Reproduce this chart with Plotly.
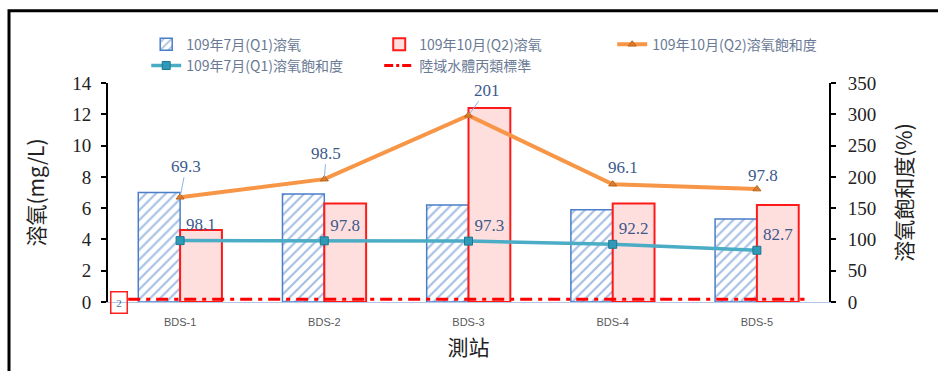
import plotly.graph_objects as go

# Monitoring stations
stations = ["BDS-1", "BDS-2", "BDS-3", "BDS-4", "BDS-5"]

# Dissolved oxygen (mg/L)
do_q1 = [7.0, 6.9, 6.2, 5.9, 5.3]
do_q2 = [4.6, 6.3, 12.4, 6.3, 6.2]

# Dissolved oxygen saturation (%)
sat_q1 = [98.1, 97.8, 97.3, 92.2, 82.7]
sat_q2 = [69.3, 98.5, 201, 96.1, 97.8]

# Class C inland water standard (mg/L)
standard_do = 4.5

left_ticks = [0, 2, 4, 6, 8, 10, 12, 14]
right_ticks = [0, 50, 100, 150, 200, 250, 300, 350]

name_q1_do = "109年7月(Q1)溶氧"
name_q2_do = "109年10月(Q2)溶氧"
name_q2_sat = "109年10月(Q2)溶氧飽和度"
name_q1_sat = "109年7月(Q1)溶氧飽和度"
name_std = "陸域水體丙類標準"

LABEL_BLUE = "#3B5A8C"
LEGEND_GREY = "#6A7A95"
SERIF = "Liberation Serif, Times New Roman, serif"
CJK = "Noto Sans CJK TC, Noto Sans CJK SC, sans-serif"

fig = go.Figure()

fig.add_trace(go.Bar(
    x=stations, y=do_q1, name=name_q1_do, legend="legend",
    marker=dict(color="white",
                line=dict(color="#4A7EC8", width=1.5),
                pattern=dict(shape="/", fgcolor="#4A7EC8", bgcolor="white",
                             size=7, solidity=0.3)),
))
fig.add_trace(go.Bar(
    x=stations, y=do_q2, name=name_q2_do, legend="legend",
    marker=dict(color="#FFDEDE", line=dict(color="#FF1A1A", width=2)),
))

# Saturation lines are stacked (Q2 sits on top of Q1), drawn without fill
fig.add_trace(go.Scatter(
    x=stations, y=sat_q1, name=name_q1_sat, yaxis="y2", legend="legend2",
    stackgroup="sat", fill="none", mode="lines+markers+text",
    line=dict(color="#4BACC6", width=3.5),
    marker=dict(symbol="square", size=8, color="#2E9AB8",
                line=dict(color="#1F7890", width=1)),
    text=[f"{v:g}" for v in sat_q1], textposition="top right",
    textfont=dict(family=SERIF, size=17, color=LABEL_BLUE),
))
fig.add_trace(go.Scatter(
    x=stations, y=sat_q2, name=name_q2_sat, yaxis="y2", legend="legend",
    stackgroup="sat", fill="none", mode="lines+markers",
    line=dict(color="#F79646", width=4),
    marker=dict(symbol="triangle-up", size=7, color="#E07B2A",
                line=dict(color="#B8651F", width=1)),
))
# Legend entry for the standard line (drawn as a shape below)
fig.add_trace(go.Scatter(
    x=[None], y=[None], name=name_std, yaxis="y2", legend="legend2",
    mode="lines", line=dict(color="#FF0000", width=3, dash="dashdot"),
))

# Data labels for the Q2 saturation series, placed at the stacked points
stacked = [a + b for a, b in zip(sat_q1, sat_q2)]
offsets = [(6, -31, True), (2, -26, True), (18, -25, True), (10, -17, False), (6, -14, False)]
for st, ys, v, (dx, dy, arrow) in zip(stations, stacked, sat_q2, offsets):
    if arrow:
        fig.add_annotation(x=st, y=ys, xref="x", yref="y2", text=f"{v:g}",
                           showarrow=True, ax=dx, ay=dy, arrowhead=0,
                           arrowwidth=1, arrowcolor="#8DB3E2", standoff=2,
                           font=dict(family=SERIF, size=17, color=LABEL_BLUE))
    else:
        fig.add_annotation(x=st, y=ys, xref="x", yref="y2", text=f"{v:g}",
                           showarrow=False, xshift=dx, yshift=-dy,
                           font=dict(family=SERIF, size=17, color=LABEL_BLUE))

# Standard line across the stations
fig.add_shape(type="line", xref="x", yref="y2", x0=-0.36, x1=4.33,
              y0=standard_do, y1=standard_do,
              line=dict(color="#FF0000", width=3, dash="12px,6px,4px,6px"))

# Small boxed marker at the origin
fig.add_annotation(xref="paper", yref="paper", x=0.015, y=0.0,
                   xanchor="center", yanchor="middle", text="2",
                   showarrow=False, width=13, height=18,
                   bordercolor="#FF2020", borderwidth=1.5,
                   font=dict(family=SERIF, size=11, color="#4A6FA5"))

# Outer frame
fig.add_shape(type="rect", xref="paper", yref="paper",
              x0=-0.1373, x1=1.6, y0=-1.0, y1=1.33,
              line=dict(color="black", width=3), layer="above")

fig.update_layout(
    width=938, height=371,
    margin=dict(l=108, r=109, t=83, b=69),
    paper_bgcolor="white", plot_bgcolor="white",
    barmode="group", bargap=0.42, bargroupgap=0,
    showlegend=True,
    legend=dict(orientation="h", x=0.053, y=1.175, xanchor="left", yanchor="middle",
                entrywidth=188, entrywidthmode="pixels",
                font=dict(family=CJK, size=14, color=LEGEND_GREY),
                bgcolor="rgba(0,0,0,0)"),
    legend2=dict(orientation="h", x=0.053, y=1.078, xanchor="left", yanchor="middle",
                 entrywidth=188, entrywidthmode="pixels",
                 font=dict(family=CJK, size=14, color=LEGEND_GREY),
                 bgcolor="rgba(0,0,0,0)"),
    xaxis=dict(
        showline=True, linecolor="#B4C7E7", linewidth=1, ticks="",
        showgrid=False, ticklabelstandoff=10,
        tickfont=dict(family="Liberation Sans, Arial, sans-serif", size=11, color="#595959"),
        title=dict(text="測站", standoff=13,
                   font=dict(family=CJK, size=21, color="#222222")),
    ),
    yaxis=dict(
        range=[0, 14], tickvals=left_ticks, showgrid=False, zeroline=False,
        showline=True, linecolor="black", linewidth=2,
        ticks="outside", ticklen=5, tickcolor="black", tickwidth=1.5,
        ticklabelstandoff=6,
        tickfont=dict(family=SERIF, size=19, color="#222222"),
        title=dict(text="溶氧(mg/L)", standoff=22,
                   font=dict(family=CJK, size=21, color="#222222")),
    ),
    yaxis2=dict(
        range=[0, 350], tickvals=right_ticks, overlaying="y", side="right",
        showgrid=False, zeroline=False,
        showline=True, linecolor="black", linewidth=2,
        ticks="outside", ticklen=5, tickcolor="black", tickwidth=1.5,
        ticklabelstandoff=8,
        tickfont=dict(family=SERIF, size=19, color="#222222"),
        title=dict(text="溶氧飽和度(%)", standoff=22,
                   font=dict(family=CJK, size=21, color="#222222")),
    ),
)

fig.write_html("out.html")
